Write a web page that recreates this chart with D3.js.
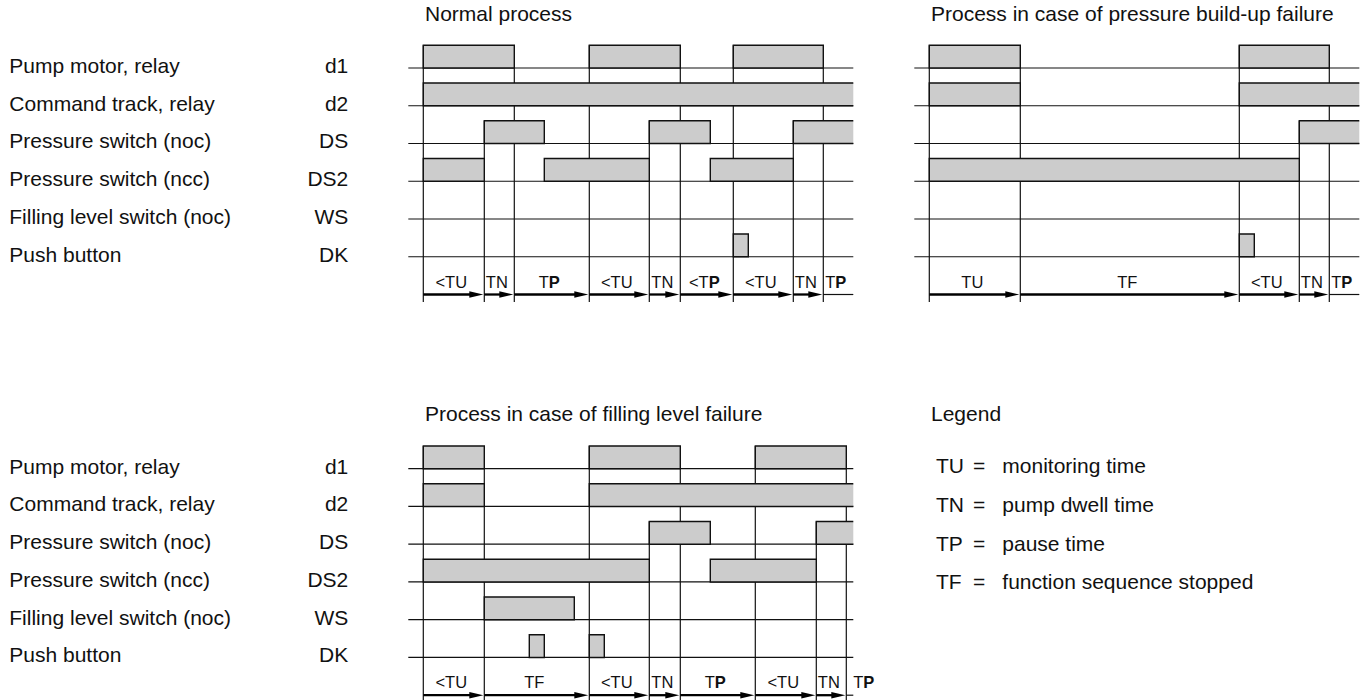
<!DOCTYPE html>
<html><head><meta charset="utf-8">
<script src="https://cdn.jsdelivr.net/npm/d3@7"></script>
<style>
body{margin:0;background:#fff}
text{font-family:"Liberation Sans",Arial,Helvetica,sans-serif;fill:#111}
</style>
</head><body>
<svg id="c" width="1369" height="700"></svg>
<script>
// ---------- data ----------
const signalNames = ["Pump motor, relay","Command track, relay","Pressure switch (noc)","Pressure switch (ncc)","Filling level switch (noc)","Push button"];
const signalCodes = ["d1","d2","DS","DS2","WS","DK"];

// time axis (arbitrary time units), each panel spans 0..43
const timeEnd = 43;

// Normal process: "on" intervals per signal
const normalD1  = [[0,9.1],[16.6,25.7],[31,40]];
const normalD2  = [[0,43]];
const normalDS  = [[6.1,12.1],[22.6,28.7],[37,43]];
const normalDS2 = [[0,6.1],[12.1,22.6],[28.7,37]];
const normalWS  = [];
const normalDK  = [[31,32.5]];
const normalPhases = ["<TU","TN","TP","<TU","TN","<TP","<TU","TN","TP"];
const normalBounds = [0,6.1,9.1,16.6,22.6,25.7,31,37,40,43];

// Process in case of pressure build-up failure
const pressD1  = [[0,9.1],[31,40]];
const pressD2  = [[0,9.1],[31,43]];
const pressDS  = [[37,43]];
const pressDS2 = [[0,37]];
const pressWS  = [];
const pressDK  = [[31,32.5]];
const pressPhases = ["TU","TF","<TU","TN","TP"];
const pressBounds = [0,9.1,31,37,40,43];

// Process in case of filling level failure
const fillD1  = [[0,6.1],[16.6,25.7],[33.2,42.3]];
const fillD2  = [[0,6.1],[16.6,43]];
const fillDS  = [[22.6,28.7],[39.3,43]];
const fillDS2 = [[0,22.6],[28.7,39.3]];
const fillWS  = [[6.1,15.1]];
const fillDK  = [[10.6,12.1],[16.6,18.1]];
const fillPhases = ["<TU","TF","<TU","TN","TP","<TU","TN","TP"];
const fillBounds = [0,6.1,16.6,22.6,25.7,33.2,39.3,42.3,46.3];

const legendKeys  = ["TU","TN","TP","TF"];
const legendTexts = ["monitoring time","pump dwell time","pause time","function sequence stopped"];

const panelTitles = ["Normal process","Process in case of pressure build-up failure","Process in case of filling level failure"];
const legendTitle = "Legend";

// ---------- layout ----------
const svg = d3.select("#c");
const INK = "#111";
const FS = 21;
const rowPitch = 37.75, barH = 22.7;

const panels = [
  {title: panelTitles[0], x0: 423.3, y0: 68.0,
   rows: [normalD1,normalD2,normalDS,normalDS2,normalWS,normalDK], phases: normalPhases, bounds: normalBounds},
  {title: panelTitles[1], x0: 929.3, y0: 68.0,
   rows: [pressD1,pressD2,pressDS,pressDS2,pressWS,pressDK], phases: pressPhases, bounds: pressBounds},
  {title: panelTitles[2], x0: 423.3, y0: 468.7,
   rows: [fillD1,fillD2,fillDS,fillDS2,fillWS,fillDK], phases: fillPhases, bounds: fillBounds}
];

// row labels for the two label blocks
[68.0, 468.7].forEach(y0 => {
  const y = d3.scaleLinear().domain([0,1]).range([y0, y0+rowPitch]);
  const g = svg.append("g");
  g.selectAll("text.name").data(signalNames).join("text").attr("class","name")
    .attr("x",9.3).attr("y",(d,i)=>y(i)+4.8)
    .style("font-size",FS+"px").text(d=>d);
  g.selectAll("text.code").data(signalCodes).join("text").attr("class","code")
    .attr("x",348.3).attr("y",(d,i)=>y(i)+4.8).attr("text-anchor","end")
    .style("font-size",FS+"px").text(d=>d);
});

panels.forEach(p => {
  const x = d3.scaleLinear().domain([0,timeEnd]).range([p.x0, p.x0+430]);
  const y = d3.scaleLinear().domain([0,1]).range([p.y0, p.y0+rowPitch]);
  const nRows = p.rows.length;
  const arrowY = y(nRows);
  const g = svg.append("g");

  g.append("text").attr("x",p.x0+1.7).attr("y",p.y0-47.3)
    .style("font-size",FS+"px").text(p.title);

  // horizontal row lines
  g.selectAll("line.row").data(d3.range(nRows)).join("line").attr("class","row")
    .attr("x1",x(0)-15).attr("x2",x(timeEnd))
    .attr("y1",d=>y(d)).attr("y2",d=>y(d))
    .attr("stroke",INK).attr("stroke-width",1.2);

  // vertical phase lines: start at the top of the highest signal that switches there
  const eps = 0.05;
  const vb = p.bounds.filter(b => b < timeEnd - eps);
  const topRow = b => {
    for (let i=0;i<nRows;i++){
      if (p.rows[i].some(iv => Math.abs(iv[0]-b)<eps || Math.abs(iv[1]-b)<eps)) return i;
    }
    return 0;
  };
  g.selectAll("line.v").data(vb).join("line").attr("class","v")
    .attr("x1",d=>x(d)).attr("x2",d=>x(d))
    .attr("y1",d=>y(topRow(d))-barH).attr("y2",arrowY+7.5)
    .attr("stroke",INK).attr("stroke-width",1.2);

  // bars
  const bars = [];
  p.rows.forEach((r,i)=>r.forEach(iv=>bars.push({row:i,s:iv[0],e:iv[1]})));
  g.selectAll("rect.bar").data(bars).join("rect").attr("class","bar")
    .attr("x",d=>x(d.s)).attr("y",d=>y(d.row)-barH)
    .attr("width",d=>x(d.e)-x(d.s)).attr("height",barH)
    .attr("fill","#cccccc");
  g.selectAll("path.bar").data(bars).join("path").attr("class","bar")
    .attr("d",d=>{
      const x0=x(d.s), x1=x(d.e), yt=y(d.row)-barH, yb=y(d.row);
      const open = d.e >= timeEnd - eps;
      return `M${x1},${yt}H${x0}V${yb}H${x1}` + (open ? "" : "Z");
    })
    .attr("fill","none").attr("stroke",INK).attr("stroke-width",1.4);

  // phase arrows
  const segs = p.phases.map((ph,i)=>({ph, s:p.bounds[i], e:p.bounds[i+1], last: i===p.phases.length-1}));
  segs.forEach(sg => {
    const xs = x(sg.s), xe = x(Math.min(sg.e,timeEnd));
    if (sg.last) {
      g.append("line").attr("x1",xs).attr("x2",xe).attr("y1",arrowY).attr("y2",arrowY)
        .attr("stroke",INK).attr("stroke-width",1.2);
    } else {
      g.append("line").attr("x1",xs).attr("x2",xe-8).attr("y1",arrowY).attr("y2",arrowY)
        .attr("stroke","#000").attr("stroke-width",2.3);
      g.append("path").attr("d",`M${xe-1},${arrowY}L${xe-15},${arrowY-3.3}L${xe-15},${arrowY+3.3}Z`)
        .attr("fill","#000");
    }
    const t = g.append("text").attr("x",(x(sg.s)+x(sg.e))/2-2.5).attr("y",arrowY-7)
      .attr("text-anchor","middle").style("font-size","16.5px");
    if (sg.ph.endsWith("P")) {
      t.append("tspan").text(sg.ph.slice(0,-1));
      t.append("tspan").style("font-weight","bold").text("P");
    } else {
      t.text(sg.ph);
    }
  });
});

// legend
const lg = svg.append("g");
lg.append("text").attr("x",931).attr("y",420.7).style("font-size",FS+"px").text(legendTitle);
const ly = d3.scaleLinear().domain([0,1]).range([473.3, 473.3+38.6]);
lg.selectAll("text.k").data(legendKeys).join("text").attr("class","k")
  .attr("x",936).attr("y",(d,i)=>ly(i)).style("font-size",FS+"px").text(d=>d);
lg.selectAll("text.eq").data(legendKeys).join("text").attr("class","eq")
  .attr("x",973).attr("y",(d,i)=>ly(i)).style("font-size",FS+"px").text("=");
lg.selectAll("text.v").data(legendTexts).join("text").attr("class","v")
  .attr("x",1002.3).attr("y",(d,i)=>ly(i)).style("font-size",FS+"px").text(d=>d);
</script>
</body></html>
